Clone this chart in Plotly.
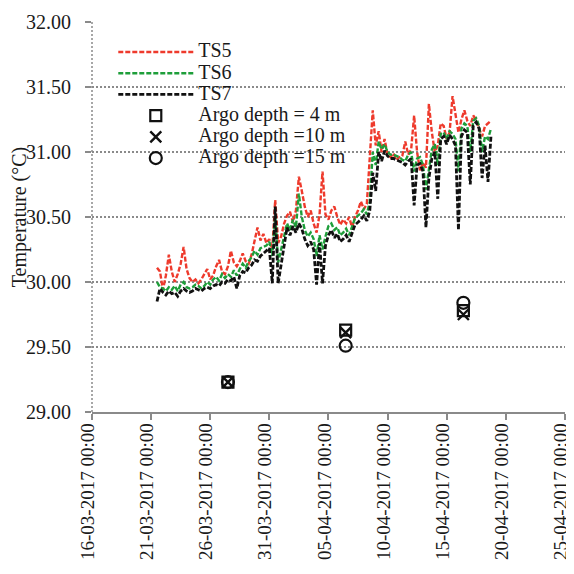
import plotly.graph_objects as go
import pandas as pd

# ---------------- data ----------------
series_start = "2017-03-21 12:00"
series_step = "6h"

ts5 = [30.11, 30.08, 29.94, 30.05,
       30.21, 30.08, 30.00, 30.06,
       30.14, 30.27, 30.10, 30.03,
       30.00, 30.02, 29.99, 30.02,
       30.06, 30.10, 30.02, 30.05,
       30.12, 30.17, 30.08, 30.06,
       30.12, 30.24, 30.15, 30.12,
       30.16, 30.22, 30.16, 30.14,
       30.21, 30.32, 30.42, 30.32,
       30.37, 30.30, 30.33, 30.25,
       30.63, 30.30, 30.35, 30.45,
       30.51, 30.54, 30.46, 30.55,
       30.81, 30.70, 30.58, 30.50,
       30.55, 30.45, 30.38, 30.52,
       30.85, 30.52, 30.48, 30.55,
       30.58, 30.50, 30.44, 30.48,
       30.45, 30.50, 30.42, 30.50,
       30.55, 30.62, 30.56, 30.60,
       30.95, 31.32, 31.05, 31.16,
       31.00, 31.10, 30.98, 30.96,
       30.99, 30.94, 30.96, 30.97,
       31.08, 30.98, 31.02, 31.28,
       31.00, 30.86, 30.92, 30.88,
       31.37, 31.15, 31.00, 31.05,
       31.22, 31.20, 31.10, 31.15,
       31.43, 31.30, 31.15, 31.25,
       31.32, 31.24, 31.20, 31.28,
       31.25, 31.18, 31.12, 31.20,
       31.22, 31.24]

ts6 = [30.00, 29.96, 29.95, 29.93,
       29.96, 29.94, 29.97, 29.93,
       29.98, 30.00, 29.96, 29.95,
       29.96, 29.98, 29.97, 29.95,
       29.97, 30.00, 29.98, 30.02,
       30.04, 30.01, 30.06, 30.03,
       30.06, 30.04, 30.09, 30.05,
       30.10, 30.14, 30.11, 30.16,
       30.19, 30.24, 30.21, 30.26,
       30.27, 30.28, 30.31, 30.20,
       30.50, 30.15, 30.25, 30.34,
       30.45, 30.40, 30.48, 30.42,
       30.68, 30.50, 30.40, 30.35,
       30.38, 30.33, 30.20, 30.36,
       30.25, 30.35, 30.43, 30.45,
       30.40, 30.42, 30.36, 30.38,
       30.41, 30.36, 30.43, 30.49,
       30.51, 30.53, 30.56, 30.52,
       30.62, 31.00, 30.90, 31.08,
       31.02, 31.06, 31.00, 30.98,
       30.98, 30.97, 30.96, 30.94,
       30.93, 30.98, 31.00, 30.85,
       30.95, 30.96, 30.90, 30.71,
       30.88, 31.02, 31.06, 30.90,
       31.14, 31.15, 31.10, 31.16,
       31.14, 31.10, 30.85, 31.18,
       31.22, 31.20, 31.00, 31.24,
       31.26, 31.20, 31.00, 31.12,
       31.10, 31.18]

ts7 = [29.85, 29.95, 29.92, 29.90,
       29.93, 29.91, 29.92, 29.89,
       29.93, 29.95, 29.93, 29.92,
       29.93, 29.95, 29.94, 29.93,
       29.95, 29.96, 29.95, 29.97,
       29.98, 29.97, 30.00, 29.99,
       30.02, 30.01, 30.04, 29.95,
       30.05, 30.08, 30.07, 30.11,
       30.13, 30.17, 30.16, 30.20,
       30.22, 30.24, 30.26, 29.99,
       30.58, 29.99, 30.14, 30.28,
       30.42, 30.36, 30.43, 30.38,
       30.45, 30.41, 30.33, 30.28,
       30.31, 30.25, 29.98, 30.30,
       29.99, 30.28, 30.36, 30.40,
       30.34, 30.37, 30.31, 30.33,
       30.36, 30.31, 30.38, 30.44,
       30.46, 30.48, 30.51, 30.47,
       30.55, 30.84, 30.70, 31.00,
       30.93, 31.01, 30.97, 30.95,
       30.95, 30.94, 30.93, 30.92,
       30.90, 30.93, 30.95, 30.59,
       30.90, 30.91, 30.85, 30.42,
       30.80, 30.95, 31.00, 30.64,
       31.10, 31.12, 31.06, 31.13,
       31.10, 31.05, 30.40, 31.12,
       31.17, 31.15, 30.75, 31.20,
       31.23, 31.18, 30.80, 31.05,
       30.77, 31.12]

argo_times = ["2017-03-27 12:00", "2017-04-06 11:00", "2017-04-16 10:00"]
argo_4m = [29.23, 29.63, 29.78]
argo_10m = [29.23, 29.61, 29.75]
argo_15m = [29.23, 29.51, 29.84]

x_tick_dates = ["2017-03-16", "2017-03-21", "2017-03-26", "2017-03-31", "2017-04-05",
                "2017-04-10", "2017-04-15", "2017-04-20", "2017-04-25"]
x_tick_labels = ["16-03-2017 00:00", "21-03-2017 00:00", "26-03-2017 00:00",
                 "31-03-2017 00:00", "05-04-2017 00:00", "10-04-2017 00:00",
                 "15-04-2017 00:00", "20-04-2017 00:00", "25-04-2017 00:00"]
y_ticks = [29.0, 29.5, 30.0, 30.5, 31.0, 31.5, 32.0]

# ---------------- figure ----------------
times = pd.date_range(series_start, periods=len(ts5), freq=series_step)
FONT = "Liberation Serif, Times New Roman, serif"
GRAY = "#8a8a8a"
TXT = "#1a1a1a"

def lab(s):
    return '<span style="font-size:20px">' + s + '</span>'

fig = go.Figure()
fig.add_trace(go.Scatter(x=times, y=ts5, mode="lines", name=lab("TS5"),
                         line=dict(color="#ee3a2c", width=2.4, dash="5px,2px")))
fig.add_trace(go.Scatter(x=times, y=ts6, mode="lines", name=lab("TS6"),
                         line=dict(color="#1e9e3a", width=2.4, dash="5px,2px")))
fig.add_trace(go.Scatter(x=times, y=ts7, mode="lines", name=lab("TS7"),
                         line=dict(color="#111111", width=2.8, dash="5px,2px")))
fig.add_trace(go.Scatter(x=pd.to_datetime(argo_times), y=argo_4m, mode="markers",
                         name=lab("Argo depth = 4 m"),
                         marker=dict(symbol="square-open", size=11, color="#111111",
                                     line=dict(width=2.2, color="#111111"))))
fig.add_trace(go.Scatter(x=pd.to_datetime(argo_times), y=argo_10m, mode="markers",
                         name=lab("Argo depth =10 m"),
                         marker=dict(symbol="x-thin-open", size=11, color="#111111",
                                     line=dict(width=2.4, color="#111111"))))
fig.add_trace(go.Scatter(x=pd.to_datetime(argo_times), y=argo_15m, mode="markers",
                         name=lab("Argo depth =15 m"),
                         marker=dict(symbol="circle-open", size=12, color="#111111",
                                     line=dict(width=2.2, color="#111111"))))

# the page body adds an 8px margin on every side; keep the page inside the window
fig.update_layout(
    width=558, height=558,
    margin=dict(l=84, r=1, t=14, b=154, autoexpand=False),
    paper_bgcolor="white", plot_bgcolor="white",
    font=dict(family=FONT, size=20, color=TXT),
    showlegend=True,
    legend=dict(x=0.045, y=0.963, xanchor="left", yanchor="top",
                bgcolor="rgba(0,0,0,0)", borderwidth=0,
                font=dict(family=FONT, size=14, color=TXT),
                tracegroupgap=0, itemwidth=75),
    xaxis=dict(type="date", range=["2017-03-16", "2017-04-25 00:20"],
               automargin=False, ticklabeloverflow="allow", ticklabelshift=-4,
               ticklabelstandoff=-4,
               tickmode="array", tickvals=pd.to_datetime(x_tick_dates), ticktext=x_tick_labels,
               tickangle=-90, showgrid=False, zeroline=False,
               showline=True, linecolor=GRAY, linewidth=1.5,
               ticks="outside", ticklen=6, tickcolor=GRAY, tickwidth=1.5,
               tickfont=dict(family=FONT, size=19, color=TXT)),
    yaxis=dict(range=[29, 32], tickmode="array", tickvals=y_ticks, automargin=False,
               tickformat=".2f", showgrid=True, gridcolor=GRAY, gridwidth=1.5,
               griddash="2px,2px", zeroline=False, showline=False,
               ticks="outside", ticklen=6, tickcolor=GRAY, tickwidth=1.5,
               ticklabelstandoff=10,
               tickfont=dict(family=FONT, size=20, color=TXT),
               title=dict(text="Temperature (°C)", standoff=0,
                          font=dict(family=FONT, size=20, color=TXT))),
)
# dotted vertical y-axis line
fig.add_shape(type="line", xref="paper", yref="paper", x0=0, x1=0, y0=0, y1=1,
              line=dict(color=GRAY, width=1.5, dash="2px,2px"))

fig.write_html("out.html")
